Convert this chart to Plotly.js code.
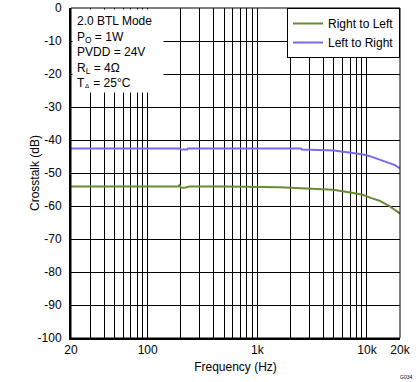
<!DOCTYPE html>
<html>
<head>
<meta charset="utf-8">
<script src="https://cdn.plot.ly/plotly-3.0.1.min.js"></script>
<style>html,body{margin:0;padding:0;background:#fff;}#chart{width:419px;height:382px;}</style>
</head>
<body>
<div id="chart"></div>
<script>
// Left to Right series
const freqLR = [20, 50, 100, 150, 195, 200, 230, 232, 500, 1000, 2000, 2500, 2550, 3500, 4400, 5000, 5700, 7000, 8000, 9000, 10600, 13000, 16000, 18000, 20000];
const dbLR   = [-42.6, -42.6, -42.6, -42.6, -42.6, -42.9, -42.9, -42.6, -42.6, -42.6, -42.6, -42.6, -42.9, -42.9, -43.1, -43.2, -43.4, -43.7, -44.0, -44.3, -44.9, -45.9, -46.9, -47.6, -48.6];
// Right to Left series
const freqRL = [20, 100, 190, 195, 200, 215, 230, 240, 500, 1000, 1500, 1600, 2800, 4000, 4900, 6000, 7000, 9000, 11000, 13000, 16000, 18000, 20000];
const dbRL   = [-54.1, -54.1, -54.1, -53.7, -54.4, -54.5, -54.2, -54.1, -54.1, -54.1, -54.1, -54.3, -54.7, -54.9, -55.1, -55.5, -55.9, -56.5, -57.6, -58.4, -60.0, -61.2, -62.3];

const xMajorVals = [20, 100, 1000, 10000, 20000];
const xMajorText = ['20', '100', '1k', '10k', '20k'];
const xMinorVals = [30,40,50,60,70,80,90,200,300,400,500,600,700,800,900,2000,3000,4000,5000,6000,7000,8000,9000];
const yTickVals = [0,-10,-20,-30,-40,-50,-60,-70,-80,-90,-100];
const yTickText = ['0','-10','-20','-30','-40','-50','-60','-70','-80','-90','-100'];

const font = {family: 'Liberation Sans, Arial, sans-serif', size: 12, color: '#000'};

const traces = [
  {x: freqRL, y: dbRL, name: 'Right to Left', mode: 'lines', line: {color: '#6B8A34', width: 2}},
  {x: freqLR, y: dbLR, name: 'Left to Right', mode: 'lines', line: {color: '#7B68EE', width: 2}}
];

const layout = {
  width: 419, height: 382,
  margin: {l: 71, r: 19, t: 8, b: 44},
  paper_bgcolor: '#fff', plot_bgcolor: '#fff',
  font: font,
  showlegend: true,
  legend: {x: 1, xanchor: 'right', y: 1, yanchor: 'top', bgcolor: '#fff', bordercolor: '#000', borderwidth: 1, font: font, tracegroupgap: 0},
  xaxis: {
    type: 'log', range: [Math.log10(20), Math.log10(20000)],
    tickmode: 'array', tickvals: xMajorVals, ticktext: xMajorText,
    showgrid: true, gridcolor: '#000', gridwidth: 1,
    minor: {tickmode: 'array', tickvals: xMinorVals, showgrid: true, gridcolor: '#000', gridwidth: 1, ticks: ''},
    showline: true, linecolor: '#000', linewidth: 2,
    ticks: '', zeroline: false, tickfont: font,
    title: {text: 'Frequency (Hz)', font: font, standoff: 6}
  },
  yaxis: {
    range: [-100, 0], tickmode: 'array', tickvals: yTickVals, ticktext: yTickText,
    showgrid: true, gridcolor: '#000', gridwidth: 1,
    showline: true, linecolor: '#000', linewidth: 2,
    ticks: '', zeroline: false, tickfont: font, ticklabelstandoff: 5
  },
  shapes: [
    {type: 'rect', xref: 'paper', yref: 'paper', x0: 0, x1: 1, y0: 0, y1: 1, line: {color: '#000', width: 1}}
  ],
  annotations: [
    {xref: 'paper', yref: 'paper', x: (35 - 71) / 329, y: 0.5, xanchor: 'center', yanchor: 'middle', textangle: -90,
     text: 'Crosstalk (dB)', showarrow: false, font: font},
    {xref: 'paper', yref: 'paper', x: 0, y: 1, xanchor: 'left', yanchor: 'top', xshift: 1, yshift: -1,
     text: '2.0 BTL Mode<br>P<sub>O</sub> = 1W<br>PVDD = 24V<br>R<sub>L</sub> = 4Ω<br>T<sub>A</sub> = 25°C',
     showarrow: false, align: 'left', valign: 'top', bgcolor: '#fff', borderpad: 4, width: 82, height: 74, font: font},
    {xref: 'paper', yref: 'paper', x: 1, y: 0, xanchor: 'right', yanchor: 'top', xshift: 14, yshift: -34,
     text: 'G034', showarrow: false, font: {family: 'Liberation Sans, Arial, sans-serif', size: 5, color: '#000'}}
  ]
};

Plotly.newPlot('chart', traces, layout, {displayModeBar: false, staticPlot: true});
</script>
</body>
</html>
